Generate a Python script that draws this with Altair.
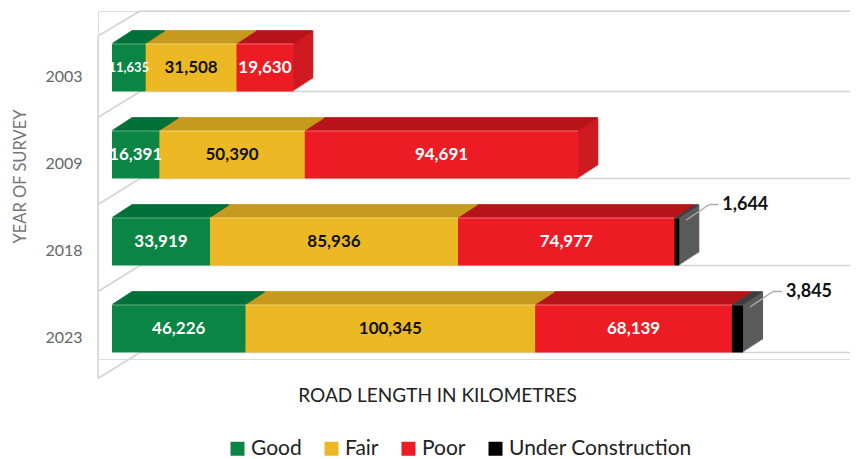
import altair as alt
import pandas as pd

years = ["2003", "2009", "2018", "2023"]
categories = ["Good", "Fair", "Poor", "Under Construction"]
good = [11635, 16391, 33919, 46226]
fair = [31508, 50390, 85936, 100345]
poor = [19630, 94691, 74977, 68139]
under = [0, 0, 1644, 3845]

front_colors = ["#0a8543", "#ecb924", "#ed1c24", "#000000"]
top_colors = ["#00713a", "#c69a1e", "#b5141a", "#3c3c3c"]
side_colors = ["#00713a", "#c69a1e", "#cf1a21", "#5b5b5d"]
text_colors = ["#ffffff", "#111111", "#ffffff", "#111111"]
WALL = "#d4d4d4"

rows = []
for i, yr in enumerate(years):
    start = 0
    for c, series in zip(categories, [good, fair, poor, under]):
        v = series[i]
        if v > 0:
            rows.append(dict(year=yr, cat=c, value=v, x0=start, x1=start + v,
                             mid=start + v / 2, label=f"{v:,}"))
        start += v
df = pd.DataFrame(rows)
dfy = pd.DataFrame({"year": years})
one = pd.DataFrame({"k": [0]})

W, H = 752, 348
DX, DY, N = 20, 13, 13

XS = alt.Scale(domain=[-4850, 255600], nice=False, zero=False)
XA = alt.Axis(title="ROAD LENGTH IN KILOMETRES", labels=False, ticks=False, domain=False,
              grid=False, titleX=339, titleY=36, titleBaseline="middle", titleFontSize=19,
              titleColor="#222", titleFontWeight="normal", titleFont="Lato")
YS = alt.Scale(domain=years, paddingInner=0, paddingOuter=0)
YA = alt.Axis(title="YEAR OF SURVEY", ticks=False, domain=False, grid=False, labelPadding=16,
              labelOffset=22, labelFontSize=16, labelColor="#666", labelFont="Lato",
              titleFontSize=16.5, titleColor="#777", titleFontWeight="normal", titleFont="Lato",
              titleX=-78, titleY=165, titleBaseline="middle", labelAngle=0)


def X(f):
    return alt.X(f"{f}:Q", scale=XS, axis=XA, title="ROAD LENGTH IN KILOMETRES")


def Y():
    return alt.Y("year:N", scale=YS, axis=YA, sort=years, title="YEAR OF SURVEY")


def C(rng, legend=None):
    if legend is None:
        return alt.Color("cat:N", scale=alt.Scale(domain=categories, range=rng), legend=None)
    return alt.Color("cat:N", scale=alt.Scale(domain=categories, range=rng), legend=legend)


layers = []
rule = dict(color=WALL, strokeWidth=1.5)
layers.append(alt.Chart(one).mark_rule(**rule).encode(x=alt.value(42), x2=alt.value(W), y=alt.value(0)))
layers.append(alt.Chart(one).mark_rule(**rule).encode(x=alt.value(0), x2=alt.value(42), y=alt.value(25), y2=alt.value(0)))
layers.append(alt.Chart(one).mark_rule(**rule).encode(x=alt.value(0), y=alt.value(25), y2=alt.value(367)))
layers.append(alt.Chart(dfy).mark_rule(yOffset=37, **rule).encode(y=Y(), x=alt.value(42), x2=alt.value(W)))
layers.append(alt.Chart(dfy).mark_rule(yOffset=63, y2Offset=37, **rule).encode(
    y=Y(), y2="year", x=alt.value(0), x2=alt.value(42)))

for k in range(N, 0, -1):
    off = k * DX / N
    layers.append(alt.Chart(df).mark_bar(height=48, xOffset=off, x2Offset=off,
                                         yOffset=13 - k * DY / N).encode(
        x=X("x0"), x2="x1", y=Y(), color=C(side_colors)))

for j in range(N):
    off = (j + 0.5) * DX / N
    layers.append(alt.Chart(df).mark_bar(height=1.3, xOffset=off, x2Offset=off,
                                         yOffset=-11 - (j + 0.5) * DY / N).encode(
        x=X("x0"), x2="x1", y=Y(), color=C(top_colors)))

legend = alt.Legend(title=None, orient="none", legendX=129, legendY=427, direction="horizontal",
                    symbolType="square", symbolSize=196, symbolStrokeWidth=0, labelFontSize=21,
                    labelFont="Lato", labelColor="#222", columnPadding=19, labelOffset=3,
                    symbolOpacity=1, labelLimit=0)
layers.append(alt.Chart(df).mark_bar(height=48, yOffset=13).encode(
    x=X("x0"), x2="x1", y=Y(), color=C(front_colors, legend)))
# light highlight along the front top edge
layers.append(alt.Chart(df).mark_bar(height=1, yOffset=-10.5, color="#ffffff", opacity=0.35).encode(
    x=X("x0"), x2="x1", y=Y()))

layers.append(alt.Chart(df).transform_filter(alt.datum.cat != "Under Construction").mark_text(
    fontWeight="bold", yOffset=13, baseline="middle", font="Lato").encode(
    x=X("mid"), y=Y(), text="label:N", color=C(text_colors),
    size=alt.condition(alt.datum.value < 15000, alt.value(13), alt.value(17))))

uc = alt.Chart(df).transform_filter(alt.datum.cat == "Under Construction")
layers.append(uc.mark_rule(color="#aaaaaa", strokeWidth=1.5, xOffset=7, x2Offset=30,
                           yOffset=-8.5, y2Offset=-24).encode(x=X("x1"), x2="x1", y=Y(), y2="year"))
layers.append(uc.mark_rule(color="#aaaaaa", strokeWidth=1.5, xOffset=30, x2Offset=39,
                           yOffset=-24).encode(x=X("x1"), x2="x1", y=Y()))
layers.append(uc.mark_text(dx=43, dy=-24, align="left", baseline="middle", fontSize=18,
                           fontWeight="bold", font="Lato", color="#111").encode(
    x=X("x1"), y=Y(), text="label:N"))

chart = alt.layer(*layers).resolve_scale(color="independent").properties(
    width=W, height=H, autosize="none",
    padding={"left": 90, "top": 3, "right": 0, "bottom": 100},
).configure_view(stroke=None).configure(font="Lato")

chart.save("out.html", embed_options={"renderer": "svg", "actions": False})
